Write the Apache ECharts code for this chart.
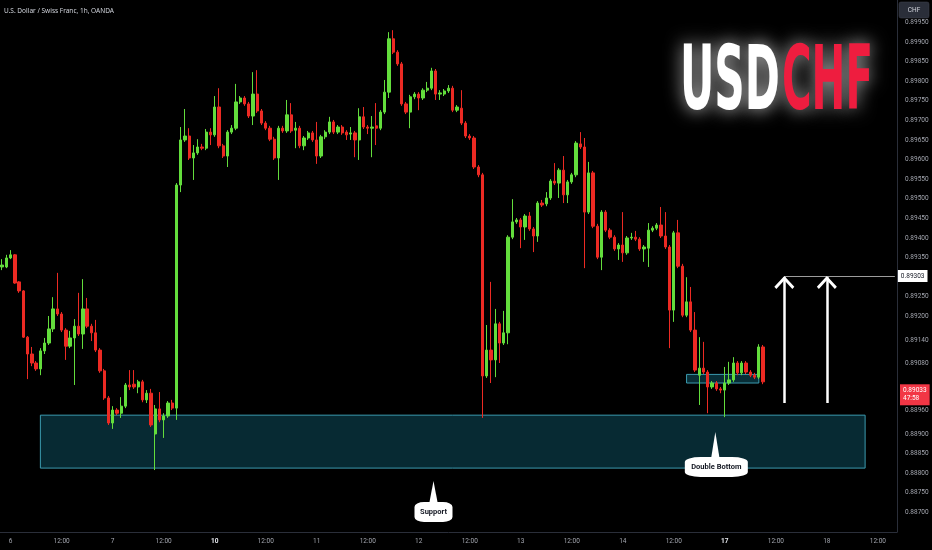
<!DOCTYPE html>
<html>
<head>
<meta charset="utf-8">
<title>USDCHF 1h</title>
<script src="https://cdn.jsdelivr.net/npm/echarts/dist/echarts.min.js"></script>
<style>
  html, body { margin: 0; padding: 0; background: #000; }
  #main { width: 932px; height: 550px; }
</style>
</head>
<body>
<div id="main"></div>
<script>
// hourly candles, the first one is day 5 at 22:00
var days = ['5', '6', '7', '10', '11', '12', '13', '14', '17', '18'];
var mondays = ['10', '17'];
var firstHour = 22;
var slotCount = 211;

var opens = [
  0.89326,0.89326,0.89349,0.89357,0.89288,0.89265,0.89147,0.89104,0.89081,0.89066,
  0.89112,0.89132,0.89168,0.89219,0.89206,0.89165,0.89124,0.89145,0.89175,0.89155,
  0.89219,0.89175,0.89158,0.89114,0.89061,0.88992,0.88928,0.88961,0.88953,0.88971,
  0.89025,0.89027,0.89020,0.89033,0.88987,0.89004,0.88900,0.88964,0.88936,0.88946,
  0.88979,0.88966,0.89535,0.89650,0.89660,0.89604,0.89617,0.89632,0.89629,0.89670,
  0.89663,0.89734,0.89635,0.89609,0.89670,0.89680,0.89747,0.89757,0.89742,0.89711,
  0.89767,0.89724,0.89693,0.89680,0.89652,0.89604,0.89680,0.89673,0.89714,0.89675,
  0.89680,0.89635,0.89655,0.89668,0.89650,0.89609,0.89658,0.89670,0.89696,0.89670,
  0.89683,0.89670,0.89665,0.89668,0.89650,0.89709,0.89683,0.89680,0.89686,0.89680,
  0.89721,0.89772,0.89908,0.89874,0.89844,0.89742,0.89721,0.89760,0.89767,0.89757,
  0.89777,0.89782,0.89826,0.89767,0.89767,0.89775,0.89782,0.89726,0.89731,0.89693,
  0.89660,0.89655,0.89581,0.89561,0.89048,0.89114,0.89089,0.89181,0.89132,0.89158,
  0.89402,0.89441,0.89446,0.89428,0.89456,0.89423,0.89405,0.89489,0.89487,0.89502,
  0.89545,0.89540,0.89573,0.89510,0.89543,0.89561,0.89640,0.89632,0.89466,0.89566,
  0.89430,0.89351,0.89466,0.89420,0.89402,0.89372,0.89382,0.89362,0.89400,0.89402,
  0.89397,0.89372,0.89374,0.89420,0.89425,0.89433,0.89405,0.89377,0.89216,0.89413,
  0.89328,0.89203,0.89237,0.89165,0.89050,0.89068,0.89058,0.89020,0.89030,0.89015,
  0.89012,0.89030,0.89038,0.89081,0.89056,0.89081,0.89058,0.89050,0.89045,0.89122
];
var closes = [
  0.89331,0.89349,0.89357,0.89285,0.89265,0.89147,0.89104,0.89081,0.89066,0.89112,
  0.89132,0.89168,0.89219,0.89206,0.89165,0.89124,0.89145,0.89175,0.89155,0.89219,
  0.89175,0.89158,0.89114,0.89061,0.88992,0.88928,0.88961,0.88953,0.88971,0.89025,
  0.89020,0.89020,0.89033,0.88987,0.89004,0.88923,0.88964,0.88936,0.88946,0.88979,
  0.88966,0.89535,0.89650,0.89660,0.89604,0.89617,0.89632,0.89629,0.89670,0.89663,
  0.89734,0.89635,0.89609,0.89670,0.89680,0.89747,0.89757,0.89742,0.89711,0.89767,
  0.89724,0.89693,0.89680,0.89652,0.89604,0.89680,0.89673,0.89714,0.89673,0.89680,
  0.89635,0.89655,0.89668,0.89650,0.89609,0.89658,0.89670,0.89696,0.89670,0.89683,
  0.89668,0.89663,0.89668,0.89650,0.89709,0.89683,0.89680,0.89683,0.89680,0.89721,
  0.89772,0.89908,0.89874,0.89844,0.89742,0.89721,0.89760,0.89767,0.89757,0.89777,
  0.89782,0.89826,0.89767,0.89770,0.89775,0.89782,0.89726,0.89734,0.89693,0.89660,
  0.89655,0.89581,0.89561,0.89048,0.89114,0.89089,0.89181,0.89132,0.89158,0.89402,
  0.89441,0.89446,0.89428,0.89456,0.89423,0.89405,0.89489,0.89484,0.89502,0.89545,
  0.89540,0.89573,0.89510,0.89543,0.89561,0.89642,0.89632,0.89466,0.89566,0.89430,
  0.89351,0.89466,0.89420,0.89402,0.89372,0.89382,0.89362,0.89400,0.89402,0.89397,
  0.89372,0.89377,0.89420,0.89425,0.89433,0.89405,0.89377,0.89216,0.89413,0.89328,
  0.89203,0.89237,0.89165,0.89063,0.89068,0.89058,0.89020,0.89030,0.89015,0.89012,
  0.89030,0.89038,0.89081,0.89056,0.89081,0.89058,0.89050,0.89045,0.89122,0.89033
];
var lows = [
  0.89318,0.89323,0.89346,0.89283,0.89260,0.89145,0.89040,0.89073,0.89061,0.89050,
  0.89104,0.89127,0.89160,0.89201,0.89160,0.89089,0.89119,0.89025,0.89150,0.89117,
  0.89170,0.89137,0.89109,0.89056,0.88987,0.88923,0.88913,0.88948,0.88941,0.88966,
  0.89012,0.89015,0.89004,0.88981,0.88979,0.88918,0.88808,0.88930,0.88890,0.88941,
  0.88961,0.88936,0.89517,0.89645,0.89599,0.89548,0.89612,0.89624,0.89624,0.89637,
  0.89658,0.89629,0.89604,0.89581,0.89665,0.89675,0.89742,0.89737,0.89706,0.89688,
  0.89719,0.89688,0.89675,0.89647,0.89599,0.89548,0.89668,0.89668,0.89668,0.89629,
  0.89629,0.89624,0.89650,0.89645,0.89589,0.89604,0.89652,0.89665,0.89665,0.89665,
  0.89663,0.89650,0.89650,0.89606,0.89599,0.89678,0.89665,0.89606,0.89637,0.89675,
  0.89716,0.89757,0.89869,0.89839,0.89737,0.89716,0.89680,0.89754,0.89726,0.89752,
  0.89772,0.89777,0.89752,0.89752,0.89762,0.89770,0.89721,0.89721,0.89688,0.89655,
  0.89650,0.89576,0.89555,0.88941,0.89043,0.89030,0.89045,0.89081,0.89127,0.89129,
  0.89397,0.89436,0.89374,0.89395,0.89418,0.89364,0.89390,0.89479,0.89481,0.89497,
  0.89535,0.89502,0.89489,0.89489,0.89538,0.89555,0.89627,0.89323,0.89461,0.89425,
  0.89346,0.89318,0.89415,0.89397,0.89367,0.89344,0.89339,0.89357,0.89395,0.89392,
  0.89367,0.89339,0.89326,0.89415,0.89420,0.89400,0.89372,0.89119,0.89186,0.89323,
  0.89198,0.89198,0.89160,0.89058,0.88974,0.89053,0.88953,0.89015,0.89010,0.89004,
  0.88943,0.89025,0.89033,0.89050,0.89050,0.89053,0.89045,0.89040,0.89040,0.89027
];
var highs = [
  0.89346,0.89357,0.89369,0.89359,0.89290,0.89267,0.89150,0.89122,0.89086,0.89119,
  0.89145,0.89201,0.89249,0.89311,0.89211,0.89170,0.89163,0.89193,0.89260,0.89295,
  0.89247,0.89181,0.89191,0.89119,0.89066,0.88997,0.88971,0.88966,0.88994,0.89030,
  0.89063,0.89063,0.89038,0.89038,0.89012,0.89015,0.88974,0.89007,0.88953,0.88984,
  0.88987,0.89540,0.89683,0.89729,0.89680,0.89637,0.89652,0.89640,0.89678,0.89680,
  0.89762,0.89782,0.89640,0.89675,0.89688,0.89793,0.89762,0.89762,0.89747,0.89823,
  0.89828,0.89729,0.89698,0.89686,0.89658,0.89686,0.89686,0.89752,0.89744,0.89696,
  0.89686,0.89660,0.89673,0.89673,0.89696,0.89663,0.89675,0.89709,0.89701,0.89688,
  0.89688,0.89675,0.89683,0.89673,0.89731,0.89734,0.89688,0.89711,0.89744,0.89726,
  0.89803,0.89925,0.89930,0.89879,0.89849,0.89747,0.89765,0.89772,0.89772,0.89782,
  0.89798,0.89834,0.89831,0.89777,0.89780,0.89790,0.89788,0.89739,0.89777,0.89698,
  0.89665,0.89660,0.89586,0.89566,0.89178,0.89288,0.89219,0.89186,0.89214,0.89407,
  0.89499,0.89451,0.89451,0.89461,0.89466,0.89428,0.89494,0.89497,0.89517,0.89550,
  0.89591,0.89578,0.89609,0.89548,0.89566,0.89647,0.89670,0.89655,0.89594,0.89571,
  0.89436,0.89471,0.89471,0.89425,0.89407,0.89387,0.89466,0.89405,0.89413,0.89418,
  0.89402,0.89382,0.89438,0.89430,0.89438,0.89479,0.89466,0.89382,0.89418,0.89446,
  0.89334,0.89300,0.89275,0.89211,0.89147,0.89135,0.89063,0.89035,0.89035,0.89020,
  0.89071,0.89084,0.89096,0.89086,0.89086,0.89086,0.89063,0.89056,0.89129,0.89127
];

// price scale labels as shown on the right
var yTicks = [0.8870, 0.8875, 0.8880, 0.8885, 0.8890, 0.8896, 0.8908, 0.8914, 0.8920,
  0.8925, 0.8935, 0.8940, 0.8945, 0.8950, 0.8955, 0.8960, 0.8965, 0.8970, 0.8975,
  0.8980, 0.8985, 0.8990, 0.8995];

// drawn levels
var supportTop = 0.88948, supportBottom = 0.88813;
var baseTop = 0.89052, baseBottom = 0.89030;
var targetPrice = 0.89303;
var lastPrice = 0.89033;
var countdown = '47:58';
var arrowFrom = 0.88979;

var upColor = '#63dd3c';
var downColor = '#ec2a23';

var categories = [];
for (var d = 0; d < days.length && categories.length < slotCount; d++) {
  for (var h = (d === 0 ? firstHour : 0); h < 24 && categories.length < slotCount; h++) {
    categories.push(days[d] + ' ' + (h < 10 ? '0' + h : h) + ':00');
  }
}

var candles = opens.map(function (o, i) {
  return [o, closes[i], lows[i], highs[i]];
});

var chevron = 'path://M10,0L20,10L18,12L10,4L2,12L0,10Z';

var myChart = echarts.init(document.getElementById('main'));

// width of the big logo words
function fitScale(text, font, width) {
  var ctx = document.createElement('canvas').getContext('2d');
  ctx.font = font;
  return width / ctx.measureText(text).width;
}
var logoFont = 'bold 89px "DejaVu Sans Condensed", "DejaVu Sans", sans-serif';

var option = {
  backgroundColor: '#000000',
  animation: false,
  title: {
    text: 'U.S. Dollar / Swiss Franc, 1h, OANDA',
    left: 4,
    top: 8,
    padding: 0,
    textStyle: { color: '#d1d4dc', fontSize: 6.5, fontWeight: 'normal', fontFamily: 'Noto Sans' }
  },
  grid: { left: 0, right: 35, top: 0, bottom: 18 },
  xAxis: {
    type: 'category',
    data: categories,
    boundaryGap: true,
    axisLine: { show: true, lineStyle: { color: '#2a2e39' } },
    axisTick: { show: false },
    splitLine: { show: false },
    axisLabel: {
      color: '#a3a6af',
      fontSize: 6.5,
      fontFamily: 'Roboto',
      margin: 6,
      interval: function (idx, value) {
        var t = value.split(' ')[1];
        return t === '00:00' || t === '12:00';
      },
      formatter: function (value) {
        var parts = value.split(' ');
        if (parts[1] === '12:00') return '12:00';
        if (mondays.indexOf(parts[0]) >= 0) return '{b|' + parts[0] + '}';
        return parts[0];
      },
      rich: {
        b: { color: '#e6e8ee', fontSize: 6.5, fontWeight: 'bold', fontFamily: 'Roboto' }
      }
    }
  },
  yAxis: {
    type: 'value',
    position: 'right',
    min: 0.8865,
    max: 0.90007,
    scale: true,
    splitLine: { show: false },
    axisLine: { show: true, lineStyle: { color: '#2a2e39' } },
    axisTick: { show: false },
    axisLabel: {
      color: '#a3a6af',
      fontSize: 6.5,
      fontFamily: 'Roboto',
      margin: 8,
      customValues: yTicks,
      formatter: function (v) { return v.toFixed(5); }
    }
  },
  series: [{
    type: 'candlestick',
    data: candles,
    barWidth: 2.8,
    clip: false,
    itemStyle: {
      color: upColor,
      color0: downColor,
      borderColor: upColor,
      borderColor0: downColor,
      borderWidth: 1
    },
    markArea: {
      silent: true,
      data: [
        [{ xAxis: 9, yAxis: supportTop,
           itemStyle: { color: 'rgba(22,132,158,0.32)', borderColor: '#3b9bb0', borderWidth: 1 } },
         { xAxis: 203, yAxis: supportBottom }],
        [{ xAxis: 161, yAxis: baseTop,
           itemStyle: { color: 'rgba(22,132,158,0.35)', borderColor: '#3b9bb0', borderWidth: 1 } },
         { xAxis: 178, yAxis: baseBottom }]
      ]
    },
    markLine: {
      silent: true,
      symbol: 'none',
      label: { show: false },
      lineStyle: { type: 'solid' },
      data: [
        [{ coord: [184, targetPrice],
           lineStyle: { color: '#9c9c9c', width: 1 },
           label: { show: true, position: 'end', distance: 3, formatter: targetPrice.toFixed(5),
             backgroundColor: '#ffffff', color: '#131722', fontSize: 6.5, fontFamily: 'Roboto',
             padding: [3, 3, 2, 3] } },
         { coord: [210, targetPrice] }],
        [{ coord: [184, arrowFrom], lineStyle: { color: '#ffffff', width: 2.5 } },
         { coord: [184, 0.89300] }],
        [{ coord: [194, arrowFrom], lineStyle: { color: '#ffffff', width: 2.5 } },
         { coord: [194, 0.89300] }],
        { yAxis: lastPrice,
          lineStyle: { color: 'rgba(0,0,0,0)', width: 0 },
          label: { show: true, position: 'end', distance: 3,
            formatter: lastPrice.toFixed(5) + '\n' + countdown,
            backgroundColor: '#f23645', color: '#ffffff', fontSize: 6.5, fontFamily: 'Roboto',
            lineHeight: 8, padding: [3, 3, 2, 3] } }
      ]
    },
    markPoint: {
      silent: true,
      label: { show: false },
      data: [
        { coord: [184, targetPrice], symbol: chevron, symbolSize: [20, 13], symbolOffset: [0, 6.5],
          itemStyle: { color: '#ffffff' } },
        { coord: [194, targetPrice], symbol: chevron, symbolSize: [20, 13], symbolOffset: [0, 6.5],
          itemStyle: { color: '#ffffff' } },
        { coord: [101, 0.88753], symbol: 'triangle', symbolSize: [8, 21], symbolOffset: [2, 0],
          itemStyle: { color: '#ffffff' } },
        { coord: [101, 0.88701], symbol: 'roundRect', symbolSize: [38, 20], symbolOffset: [2, 0],
          itemStyle: { color: '#ffffff' },
          label: { show: true, position: 'inside', formatter: 'Support', color: '#131722',
            fontSize: 7.5, fontWeight: 'bold', fontFamily: 'Roboto' } },
        { coord: [168, 0.88873], symbol: 'triangle', symbolSize: [8, 25], symbolOffset: [-1, 0],
          itemStyle: { color: '#ffffff' } },
        { coord: [168, 0.88816], symbol: 'roundRect', symbolSize: [63, 20],
          itemStyle: { color: '#ffffff' },
          label: { show: true, position: 'inside', formatter: 'Double Bottom', color: '#131722',
            fontSize: 7.5, fontWeight: 'bold', fontFamily: 'Roboto' } }
      ]
    }
  }],
  graphic: [
    {
      type: 'text', x: 680, y: 86, scaleX: fitScale('USD', logoFont, 100), silent: true,
      style: {
        text: 'USD', font: logoFont, fill: '#ffffff', verticalAlign: 'middle', align: 'left',
        shadowBlur: 18, shadowColor: 'rgba(255,255,255,0.8)',
        textShadowBlur: 18, textShadowColor: 'rgba(255,255,255,0.8)'
      }
    },
    {
      type: 'text', x: 782, y: 86, scaleX: fitScale('CHF', logoFont, 91), silent: true,
      style: {
        text: 'CHF', font: logoFont, fill: '#ee1d3f', verticalAlign: 'middle', align: 'left',
        shadowBlur: 18, shadowColor: 'rgba(255,255,255,0.7)',
        textShadowBlur: 18, textShadowColor: 'rgba(255,255,255,0.7)'
      }
    },
    {
      type: 'rect', x: 899, y: 2, silent: true,
      shape: { width: 30, height: 16, r: 2 },
      style: { fill: '#2a2e39', stroke: '#434651', lineWidth: 0.5 }
    },
    {
      type: 'text', x: 914, y: 10, silent: true,
      style: { text: 'CHF', fill: '#d1d4dc', font: '6.5px Roboto', align: 'center', verticalAlign: 'middle' }
    }
  ]
};

myChart.setOption(option);
</script>
</body>
</html>
